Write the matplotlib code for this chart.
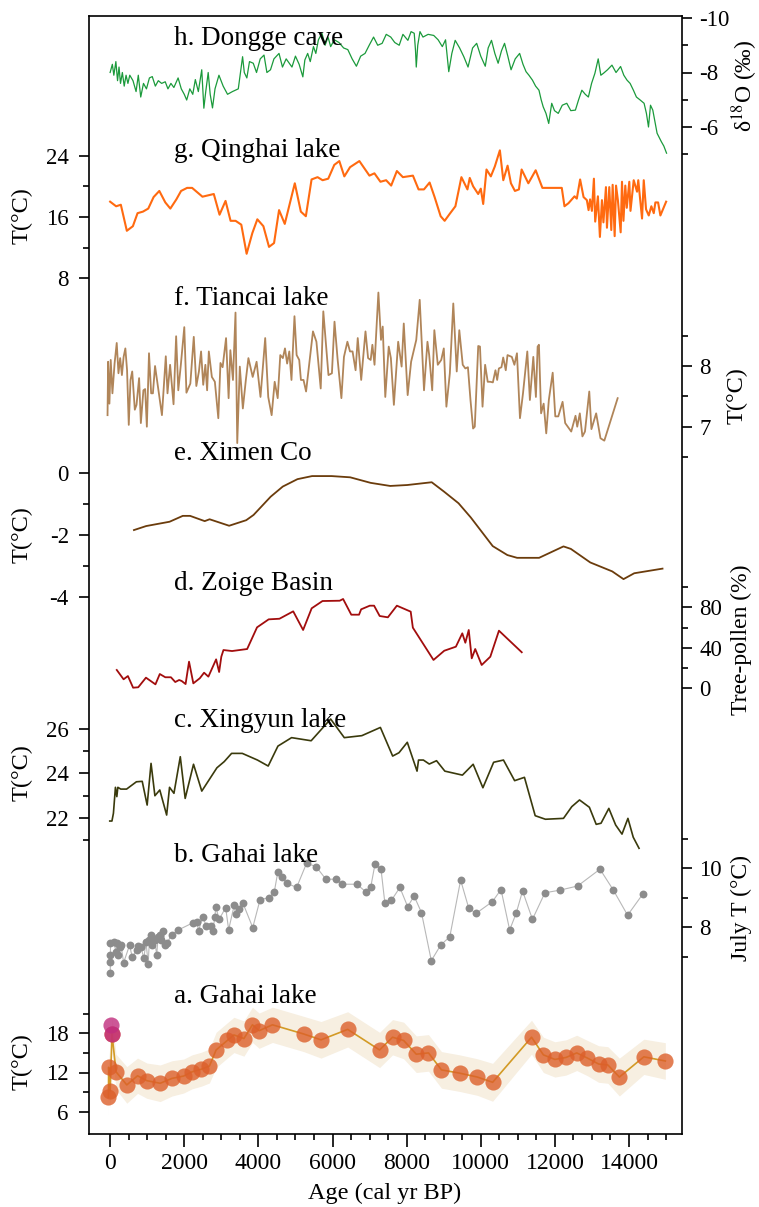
import numpy as np
import matplotlib.pyplot as plt

plt.rcParams['font.family'] = ['Liberation Serif', 'DejaVu Serif']
plt.rcParams['mathtext.fontset'] = 'stix'
plt.rcParams['axes.unicode_minus'] = False

# ---- data ----
# h. Dongge cave, d18O (permil)
dongge_age = [0, 60, 100, 155, 200, 240, 280, 330, 380, 430, 480, 530, 617, 700, 760, 826, 900, 980,
              1060, 1137, 1220, 1300, 1390, 1487, 1560, 1640, 1720, 1834, 1920, 2000, 2066, 2150, 2230,
              2299, 2380, 2472, 2529, 2580, 2646, 2700, 2762, 2830, 2936, 3050, 3168, 3300, 3458, 3574,
              3620, 3689, 3760, 3862, 3950, 4050, 4152, 4230, 4327, 4420, 4557, 4650, 4750, 4906, 5000,
              5100, 5200, 5254, 5330, 5400, 5486, 5550, 5620, 5715, 5800, 5880, 5950, 6050, 6175, 6300,
              6413, 6530, 6645, 6760, 6878, 6990, 7108, 7220, 7339, 7450, 7572, 7680, 7800, 7900, 8034,
              8120, 8205, 8240, 8260, 8300, 8360, 8441, 8580, 8731, 8850, 8963, 9050, 9137, 9220, 9310,
              9430, 9543, 9657, 9780, 9890, 10000, 10122, 10200, 10290, 10380, 10469, 10560, 10642,
              10730, 10818, 10930, 11049, 11140, 11222, 11300, 11395, 11480, 11571, 11630, 11685, 11760,
              11834, 11915, 11990, 12091, 12200, 12321, 12430, 12554, 12640, 12728, 12820, 12904, 12990,
              13080, 13169, 13240, 13310, 13420, 13540, 13650, 13773, 13860, 13946, 14030, 14119, 14200,
              14293, 14407, 14470, 14526, 14580, 14642, 14700, 14758, 14820, 14873, 14940, 15013]
dongge_d18o = [-8.0, -8.3, -7.9, -8.4, -7.7, -8.2, -7.6, -8.0, -7.5, -7.9, -7.6, -7.9, -7.7, -7.3, -7.9,
               -7.1, -7.6, -7.4, -7.8, -7.85, -7.5, -7.7, -7.6, -7.66, -7.4, -7.6, -7.45, -7.8, -7.4, -7.2,
               -6.99, -7.4, -7.2, -7.74, -7.3, -8.1, -6.69, -7.3, -8.0, -7.2, -6.7, -7.4, -7.9, -7.5, -7.2,
               -7.3, -7.4, -8.58, -8.0, -7.8, -8.4, -8.34, -8.0, -8.5, -8.64, -8.0, -8.1, -8.5, -8.7, -8.2,
               -8.5, -8.2, -8.6, -8.3, -7.84, -8.46, -8.7, -8.4, -8.95, -8.7, -9.2, -9.44, -9.0, -9.3,
               -8.95, -9.2, -9.1, -8.9, -8.84, -8.5, -8.23, -8.6, -8.7, -9.0, -9.3, -9.0, -9.07, -9.4, -9.3,
               -9.1, -9.0, -9.4, -9.18, -9.5, -9.44, -8.8, -8.2, -9.0, -9.5, -9.3, -9.4, -9.36, -9.2, -8.95,
               -9.2, -8.03, -8.7, -9.18, -8.9, -8.58, -8.2, -8.9, -9.07, -8.6, -8.23, -8.9, -9.18, -8.7,
               -8.34, -8.8, -9.07, -8.6, -8.1, -8.5, -8.7, -8.3, -8.03, -7.9, -7.72, -7.5, -7.35, -7.0,
               -6.74, -6.5, -6.13, -6.87, -6.6, -6.5, -6.8, -6.87, -6.6, -6.62, -7.0, -7.35, -7.2, -7.1,
               -7.6, -7.97, -8.5, -7.9, -7.97, -8.1, -8.27, -8.0, -8.22, -7.9, -7.72, -7.6, -7.35, -7.1,
               -7.0, -6.87, -6.5, -6.0, -6.8, -6.62, -6.2, -5.77, -5.6, -5.46, -5.3, -5.04]

# g. Qinghai lake, T (degC)
qinghai_age = [0, 162, 289, 451, 614, 740, 885, 1029, 1173, 1327, 1489, 1625, 1787, 1914, 2077, 2212, 2491,
               2797, 2952, 3114, 3250, 3385, 3539, 3683, 3837, 3972, 4135, 4287, 4423, 4558, 4712, 4983,
               5146, 5281, 5435, 5597, 5733, 5885, 6048, 6184, 6319, 6473, 6725, 6996, 7131, 7293, 7447,
               7583, 7737, 7899, 8170, 8322, 8468, 8620, 8755, 8918, 9026, 9161, 9316, 9478, 9641, 9703,
               9795, 9931, 10001, 10066, 10155, 10272, 10380, 10516, 10608, 10724, 10814, 10922, 11030,
               11103, 11284, 11482, 11663, 12186, 12259, 12367, 12530, 12592, 12681, 12774, 12863, 12909,
               12950, 12999, 13053, 13088, 13161, 13215, 13270, 13310, 13378, 13405, 13468, 13522, 13559,
               13613, 13650, 13700, 13775, 13811, 13850, 13900, 13940, 14008, 14040, 14127, 14217, 14250,
               14352, 14398, 14460, 14533, 14603, 14668, 14712, 14785, 14847, 15002]
qinghai_t = [18.0, 17.4, 17.6, 14.2, 14.8, 16.5, 16.7, 17.1, 18.6, 19.4, 17.9, 17.1, 18.3, 19.4, 19.8, 19.8,
             18.65, 19.0, 16.3, 18.1, 15.5, 15.5, 15.0, 11.2, 13.9, 15.7, 14.8, 12.1, 12.6, 16.9, 15.1, 20.4,
             16.7, 16.1, 20.9, 21.2, 20.8, 21.0, 22.8, 23.3, 21.3, 22.5, 23.3, 21.4, 21.7, 20.6, 20.8, 20.1,
             22.0, 21.2, 21.4, 19.6, 19.6, 20.5, 18.6, 16.1, 15.5, 16.4, 17.4, 21.2, 19.6, 21.1, 20.0, 19.0,
             19.7, 17.7, 22.2, 21.3, 22.6, 24.7, 20.8, 22.7, 20.4, 19.4, 19.6, 22.2, 20.4, 22.1, 19.8, 19.8,
             17.4, 17.8, 18.7, 18.4, 20.9, 18.6, 18.2, 16.9, 18.3, 16.8, 21.0, 15.4, 18.7, 13.4, 18.2, 15.3,
             19.9, 14.6, 19.9, 14.3, 20.2, 13.5, 20.1, 18.2, 14.0, 20.6, 15.5, 20.1, 17.2, 20.6, 16.8, 20.8,
             19.3, 20.8, 15.8, 20.8, 17.0, 16.2, 17.4, 16.5, 17.9, 17.9, 16.2, 18.0]

# f. Tiancai lake, T (degC)
tiancai_age = [-70, -54, -19, 16, 62, 120, 178, 225, 271, 318, 364, 411, 457, 503, 550, 596, 666, 712, 782,
               829, 898, 945, 991, 1049, 1107, 1154, 1212, 1316, 1398, 1502, 1548, 1618, 1711, 1781, 1839,
               1908, 2001, 2059, 2164, 2257, 2326, 2396, 2454, 2512, 2570, 2617, 2663, 2745, 2826, 2919,
               2977, 3035, 3128, 3197, 3244, 3314, 3383, 3430, 3499, 3581, 3662, 3731, 3847, 3952, 4057,
               4184, 4266, 4358, 4440, 4521, 4591, 4660, 4718, 4776, 4834, 4893, 4974, 5032, 5102, 5148,
               5218, 5287, 5473, 5566, 5682, 5752, 5891, 5984, 6054, 6135, 6240, 6309, 6402, 6472, 6541,
               6623, 6681, 6774, 6890, 6960, 7030, 7076, 7134, 7238, 7308, 7355, 7424, 7517, 7575, 7656,
               7772, 7865, 7923, 8028, 8121, 8260, 8353, 8469, 8562, 8609, 8690, 8748, 8841, 8934, 9003,
               9073, 9166, 9259, 9352, 9421, 9514, 9584, 9654, 9723, 9793, 9839, 9932, 9979, 10048, 10118,
               10188, 10257, 10327, 10397, 10443, 10489, 10559, 10606, 10675, 10722, 10838, 10908, 10977,
               11058, 11140, 11256, 11326, 11418, 11488, 11535, 11570, 11628, 11697, 11767, 11837, 11941,
               12011, 12092, 12208, 12278, 12441, 12557, 12603, 12673, 12743, 12812, 12928, 12986, 13114,
               13230, 13334, 13694]
tiancai_t = [7.19, 8.07, 7.38, 8.10, 7.55, 8.04, 8.38, 7.88, 8.13, 7.85, 8.15, 8.29, 7.93, 7.03, 7.77, 7.91,
             7.28, 7.36, 7.80, 7.06, 7.60, 7.62, 7.00, 8.21, 7.55, 7.55, 8.00, 7.55, 7.19, 8.16, 7.55, 8.02,
             7.37, 8.49, 7.60, 8.02, 8.64, 7.56, 7.71, 8.48, 7.67, 7.91, 8.24, 7.69, 8.02, 7.60, 8.24, 7.82,
             7.74, 7.14, 8.05, 7.98, 8.46, 7.47, 8.26, 7.77, 8.88, 6.73, 7.99, 7.30, 7.77, 8.13, 7.82, 8.07,
             7.49, 8.46, 7.49, 7.19, 7.74, 7.47, 8.18, 8.13, 8.29, 8.04, 8.24, 7.77, 8.82, 8.18, 8.10, 7.77,
             7.77, 7.58, 8.57, 8.40, 7.63, 8.90, 7.85, 7.88, 8.73, 8.13, 7.47, 8.15, 8.40, 8.24, 8.24, 7.93,
             8.46, 7.77, 8.57, 8.13, 8.10, 8.35, 8.02, 9.21, 8.43, 8.65, 7.49, 8.32, 8.13, 7.36, 8.40, 7.99,
             8.70, 7.52, 8.07, 8.43, 9.09, 7.60, 8.40, 8.18, 7.60, 8.59, 8.02, 8.10, 8.29, 7.33, 7.88, 9.03,
             7.91, 8.59, 8.02, 7.96, 7.98, 7.44, 6.97, 7.00, 8.33, 8.32, 7.33, 8.02, 7.74, 7.74, 7.73, 7.93,
             7.77, 7.96, 7.98, 8.14, 7.93, 8.18, 8.15, 8.02, 8.21, 7.14, 7.55, 8.24, 7.44, 8.15, 7.49, 8.32,
             8.35, 7.22, 7.38, 6.89, 7.44, 7.89, 7.17, 7.17, 7.41, 7.06, 6.92, 7.18, 7.00, 7.22, 6.84, 6.92,
             7.58, 6.96, 7.22, 6.81, 6.77, 7.47]

# e. Ximen Co, T (degC)
ximen_age = [643, 972, 1604, 1960, 2158, 2552, 2684, 3211, 3672, 3870, 4330, 4658, 5054, 5449, 5976, 6477,
             7030, 7556, 8016, 8677, 9005, 9400, 9730, 10323, 10718, 10981, 11574, 12232, 12430, 12955,
             13548, 13852, 14141, 14904]
ximen_t = [-1.84, -1.71, -1.57, -1.38, -1.38, -1.55, -1.49, -1.70, -1.52, -1.35, -0.76, -0.43, -0.19, -0.09,
           -0.09, -0.13, -0.31, -0.41, -0.38, -0.29, -0.59, -0.97, -1.43, -2.36, -2.65, -2.74, -2.74, -2.37,
           -2.45, -2.89, -3.18, -3.43, -3.24, -3.09]

# d. Zoige Basin, tree pollen (%)
zoige_age = [179, 363, 480, 620, 758, 967, 1223, 1340, 1489, 1641, 1757, 1862, 1931, 2036, 2129, 2245, 2419,
             2535, 2651, 2860, 2941, 3000, 3058, 3290, 3697, 3964, 4278, 4569, 4940, 5207, 5438, 5730, 6194,
             6286, 6507, 6716, 6773, 7006, 7122, 7273, 7494, 7737, 8110, 8168, 8725, 9015, 9329, 9502, 9584,
             9676, 9757, 9851, 10025, 10258, 10491, 11106]
zoige_pollen = [18.1, 8.9, 12.1, 0.6, 1.0, 10.5, 3.9, 14.1, 10.9, 10.9, 6.2, 8.2, 7.2, 4.2, 26.3, 4.9, 9.9,
                15.4, 11.5, 28.6, 16.1, 31.2, 37.8, 36.8, 38.8, 60.2, 68.1, 68.7, 76.0, 57.6, 79.0, 86.2,
                86.5, 88.2, 72.7, 72.7, 78.0, 81.6, 81.6, 71.4, 70.1, 81.6, 75.7, 59.9, 28.0, 37.1, 41.1,
                54.3, 45.0, 57.6, 29.6, 38.8, 23.0, 31.2, 56.9, 35.6]

# c. Xingyun lake, T (degC)
xingyun_age = [-10, 49, 89, 143, 181, 208, 287, 444, 709, 866, 999, 1104, 1208, 1340, 1525, 1603, 1722, 1893,
               2025, 2250, 2473, 2881, 3079, 3277, 3566, 3975, 4265, 4528, 4896, 5424, 5950, 6318, 6792,
               7292, 7623, 7794, 8018, 8281, 8321, 8452, 8611, 8807, 9031, 9505, 9795, 10058, 10348, 10613,
               10914, 11179, 11469, 11745, 12232, 12457, 12665, 12931, 13115, 13245, 13456, 13640, 13811,
               13971, 14114, 14271]
xingyun_t = [21.85, 21.85, 22.2, 23.37, 22.95, 23.37, 23.29, 23.29, 23.62, 23.64, 22.57, 24.45, 22.99, 23.25,
             22.12, 23.37, 23.1, 24.75, 22.87, 24.41, 23.2, 24.25, 24.53, 24.9, 24.9, 24.6, 24.33, 25.23,
             25.61, 25.47, 26.45, 25.61, 25.7, 26.07, 24.78, 24.93, 25.4, 24.1, 24.6, 24.6, 24.42, 24.57,
             24.1, 23.92, 24.41, 23.35, 24.5, 24.6, 23.67, 23.82, 22.09, 21.93, 21.97, 22.5, 22.8, 22.47,
             21.7, 21.75, 22.42, 21.67, 21.26, 21.97, 21.12, 20.62]

# b. Gahai lake, July T (degC)
gahai_b_age = [4, 6, 8, 10, 97, 155, 178, 214, 271, 294, 364, 526, 596, 712, 759, 829, 910, 968, 1026, 1061,
               1107, 1142, 1200, 1258, 1293, 1340, 1376, 1433, 1491, 1526, 1665, 1839, 2246, 2338, 2386,
               2501, 2593, 2710, 2767, 2827, 2849, 2942, 3117, 3198, 3348, 3383, 3464, 3580, 3848, 4046,
               4278, 4428, 4522, 4626, 4777, 5032, 5300, 5555, 5822, 6101, 6253, 6659, 6891, 7030, 7146,
               7309, 7413, 7587, 7818, 8028, 8202, 8400, 8666, 8921, 9165, 9457, 9676, 9873, 10314, 10547,
               10780, 10954, 11128, 11395, 11731, 12139, 12614, 13217, 13578, 13962, 14380]
gahai_b_t = [6.44, 6.83, 7.06, 7.46, 7.51, 7.17, 7.46, 7.06, 7.34, 7.40, 6.80, 7.40, 6.98, 7.23, 7.37, 7.34,
             6.95, 7.51, 6.76, 7.57, 7.74, 7.40, 7.57, 7.06, 7.68, 7.74, 7.57, 7.89, 7.40, 7.46, 7.74, 7.91,
             8.16, 8.19, 7.89, 8.36, 8.04, 8.04, 7.89, 8.34, 8.70, 8.27, 8.67, 7.92, 8.75, 8.44, 8.63, 8.83,
             7.99, 8.94, 9.00, 9.19, 9.86, 9.69, 9.49, 9.35, 10.17, 10.06, 9.63, 9.63, 9.46, 9.46, 9.21,
             9.35, 10.14, 9.97, 8.82, 8.91, 9.35, 8.70, 9.06, 8.50, 6.87, 7.40, 7.68, 9.60, 8.65, 8.47, 8.87,
             9.28, 7.91, 8.47, 9.23, 8.27, 9.17, 9.26, 9.40, 9.97, 9.26, 8.41, 9.14]

# a. Gahai lake, T (degC) with uncertainty band
gahai_a_age = [-45, -40, 0, 50, 160, 450, 740, 990, 1350, 1670, 1985, 2210, 2460, 2680, 2860, 3160, 3340,
               3610, 3840, 4020, 4380, 5220, 5690, 6410, 7270, 7620, 7920, 8260, 8590, 8940, 9430, 9910,
               10320, 11370, 11690, 12000, 12300, 12590, 12880, 13180, 13430, 13740, 14400, 14980]
gahai_a_t = [8.2, 12.8, 9.2, 17.9, 12.1, 10.1, 11.5, 10.75, 10.35, 11.1, 11.46, 12.1, 12.5, 13.0, 15.45, 16.9,
             17.75, 17.2, 19.3, 18.4, 19.3, 17.9, 17.0, 18.6, 15.45, 17.4, 16.9, 14.8, 15.0, 12.4, 11.9, 11.3,
             10.5, 17.4, 14.7, 14.0, 14.3, 15.0, 14.2, 13.3, 13.15, 11.3, 14.4, 13.76]
gahai_a_err = [2.7, 2.6, 2.6, 2.6, 2.7, 2.8, 2.7, 2.7, 2.8, 2.7, 2.6, 2.6, 2.6, 2.6, 2.7, 2.7, 2.7, 2.7, 2.7,
               2.7, 2.7, 2.7, 2.8, 2.7, 2.7, 2.7, 2.8, 2.8, 2.8, 2.8, 2.8, 2.8, 2.9, 2.6, 2.7, 2.7, 2.7, 2.7,
               2.7, 2.8, 2.8, 2.9, 2.7, 2.8]
modern_age = [30, 50]
modern_t = [19.3, 17.9]

# ---- layout (pixels of a 759x1207 canvas) ----
W, H = 759, 1207
L, R, T, B = 89, 682, 16, 1134
rect = [L / W, 1 - B / H, (R - L) / W, (B - T) / H]

fig = plt.figure(figsize=(W / 100, H / 100), dpi=100)
base = fig.add_axes(rect)
base.set_xlim(-570, 15430)
base.set_yticks([])
for s in base.spines.values():
    s.set_linewidth(1.2)
base.set_xticks(np.arange(0, 14001, 2000))
base.set_xticks(np.arange(0, 15001, 500), minor=True)
base.tick_params(axis='x', which='major', direction='out', length=9, width=1.2, labelsize=17, pad=5)
base.tick_params(axis='x', which='minor', direction='out', length=4.5, width=1.2)


def panel(side, vals, rows, major, minor):
    # ylim chosen so value vals[i] sits at pixel row rows[i]
    slope = (vals[1] - vals[0]) / (rows[1] - rows[0])
    top = vals[0] + (T - rows[0]) * slope
    bot = vals[0] + (B - rows[0]) * slope
    ax = fig.add_axes(rect, sharex=base)
    ax.set_ylim(bot, top)
    ax.patch.set_visible(False)
    for s in ax.spines.values():
        s.set_visible(False)
    ax.tick_params(axis='x', which='both', bottom=False, labelbottom=False)
    ax.yaxis.set_ticks_position(side)
    ax.set_yticks(major, labels=[str(v) for v in major])
    ax.set_yticks(minor, minor=True)
    ax.tick_params(axis='y', which='major', direction='out', length=7.5, width=1.2, labelsize=16.5,
                   pad=7 if side == 'left' else 5)
    ax.tick_params(axis='y', which='minor', direction='out', length=4.5, width=1.2)
    return ax


def px(x, y):
    return x / W, 1 - y / H


ax_h = panel('right', (-10, -6), (18, 127), [-10, -8, -6], [-9, -7, -5])
ax_h.plot(dongge_age, dongge_d18o, color='#1b9a3b', lw=0.9)

ax_g = panel('left', (24, 8), (155.7, 278.3), [24, 16, 8], [20, 12])
ax_g.plot(qinghai_age, qinghai_t, color='#ff6a10', lw=1.5)

ax_f = panel('right', (8, 7), (366, 426.7), [8, 7], [8.5, 7.5, 6.5])
ax_f.plot(tiancai_age, tiancai_t, color='#b08559', lw=1.3)

ax_e = panel('left', (0, -4), (473.3, 596.7), [0, -2, -4], [-1, -3])
ax_e.plot(ximen_age, ximen_t, color='#6b3c0c', lw=1.3)

ax_d = panel('right', (80, 0), (607.3, 688.3), [80, 40, 0], [100, 60, 20])
ax_d.plot(zoige_age, zoige_pollen, color='#a20d0d', lw=1.3)

ax_c = panel('left', (26, 22), (729, 817.7), [26, 24, 22], [25, 23, 21])
ax_c.plot(xingyun_age, xingyun_t, color='#3a3a0c', lw=1.2)

ax_b = panel('right', (10, 8), (868.3, 927.3), [10, 8], [11, 9, 7])
ax_b.plot(gahai_b_age, gahai_b_t, color='#b8b8b8', lw=0.8, zorder=1)
ax_b.scatter(gahai_b_age, gahai_b_t, s=32, color='#8c8c8c', lw=0, zorder=2)

ax_a = panel('left', (18, 6), (1033.3, 1111.7), [18, 12, 6], [21, 15, 9])
ga = np.array(gahai_a_t)
ge = np.array(gahai_a_err)
ax_a.fill_between(gahai_a_age, ga - ge, ga + ge, color='#f7efe1', lw=0, zorder=1)
ax_a.plot(gahai_a_age, gahai_a_t, color='#d39a25', lw=1.2, zorder=2)
ax_a.scatter(gahai_a_age, gahai_a_t, s=135, color='#dc5f2a', alpha=0.8, lw=0, zorder=3)
ax_a.scatter(modern_age, modern_t, s=135, color='#c02d7d', alpha=0.8, lw=0, zorder=4)

# panel names
names = ['h. Dongge cave', 'g. Qinghai lake', 'f. Tiancai lake', 'e. Ximen Co',
         'd. Zoige Basin', 'c. Xingyun lake', 'b. Gahai lake', 'a. Gahai lake']
name_rows = [45, 157, 305, 460, 590, 727, 862, 1003]
for name, row in zip(names, name_rows):
    fig.text(*px(174, row), name, fontsize=19.5, va='baseline', ha='left')

# axis titles
tc = 'T(\u00b0C)'
for row in [216, 535, 773, 1062]:
    fig.text(*px(22, row), tc, fontsize=17.5, rotation=90, ha='center', va='center')
fig.text(*px(745, 86), '\u03b4$^{18}$O (\u2030)', fontsize=17, rotation=90, ha='center', va='center')
fig.text(*px(737, 396), tc, fontsize=17.5, rotation=90, ha='center', va='center')
fig.text(*px(741, 640), 'Tree-pollen (%)', fontsize=17, rotation=90, ha='center', va='center')
fig.text(*px(741, 908), 'July T (\u00b0C)', fontsize=17, rotation=90, ha='center', va='center')
fig.text(*px(385, 1193), 'Age (cal yr BP)', fontsize=17.5, ha='center', va='center')

fig.savefig('out.png', dpi=100)
